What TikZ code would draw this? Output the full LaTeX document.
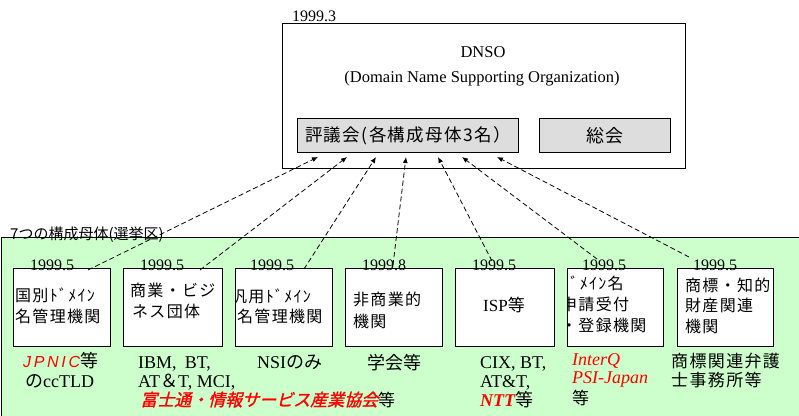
\documentclass[tikz,border=0pt]{standalone}
\usepackage{fontspec}
\setmainfont{Liberation Serif}
\newfontfamily\jp{Noto Sans CJK JP}
\newfontfamily\jpsp[LetterSpace=8]{Noto Sans CJK JP}
\newfontfamily\jpbi[FakeBold=1.5,FakeSlant=0.25]{Noto Sans CJK JP}
\newfontfamily\sansit{Liberation Sans}
\usetikzlibrary{arrows.meta}
\definecolor{areagreen}{RGB}{204,255,204}
\definecolor{boxgray}{RGB}{221,221,221}
\begin{document}
\begin{tikzpicture}[x=1pt,y=-1pt,
  frame/.style={draw=black,line width=1.1pt,inner sep=0pt,anchor=north west},
  graybox/.style={frame,fill=boxgray},
  whitebox/.style={frame,fill=white,minimum height=78pt},
  datelbl/.style={anchor=base west,inner sep=0pt,font=\fontsize{16}{18}\selectfont},
  jtext/.style={anchor=west,inner sep=0pt,font=\jpsp\fontsize{16}{18}\selectfont},
  btext/.style={anchor=base west,inner sep=0pt,font=\fontsize{18}{20}\selectfont},
  conn/.style={line width=0.8pt,dash pattern=on 5pt off 3pt,-{Latex[length=6pt,width=5pt]}}]
\useasboundingbox (0,0) rectangle (799,415);

% upper DNSO box
\node[frame,fill=white,minimum width=403pt,minimum height=145pt] (dnso) at (282,22.5) {};
\node[datelbl] (d0) at (292,21.5) {1999.3};
\node[anchor=base,inner sep=0pt,font=\fontsize{16.5}{18}\selectfont] (title1) at (483,57) {DNSO};
\node[anchor=base,inner sep=0pt,font=\fontsize{16.5}{18}\selectfont] (title2) at (482,82) {(Domain Name Supporting Organization)};
\node[graybox,minimum width=221pt,minimum height=34pt,font=\jpsp\fontsize{17.5}{20}\selectfont] (hyo) at (297,118) {評議会(各構成母体3名）};
\node[graybox,minimum width=131pt,minimum height=34pt,font=\jpsp\fontsize{18}{20}\selectfont] (sokai) at (539,118) {総会};

% green region
\node[frame,line width=1pt,fill=areagreen,minimum width=798pt,minimum height=180pt] (area) at (0.5,237) {};
\node[anchor=base west,inner sep=0pt,font=\jp\fontsize{15}{17}\selectfont] (arealbl) at (10,239) {7つの構成母体(選挙区)};

% seven boxes
\node[whitebox,minimum width=97pt] (b1) at (13,268) {};
\node[whitebox,minimum width=99pt] (b2) at (123,268) {};
\node[whitebox,minimum width=97pt] (b3) at (235,268) {};
\node[whitebox,minimum width=97pt] (b4) at (345,268) {};
\node[whitebox,minimum width=99pt] (b5) at (455,268) {};
\node[whitebox,minimum width=96pt] (b6) at (567,268) {};
\node[whitebox,minimum width=96pt] (b7) at (677,268) {};

% dates
\node[datelbl] (d1) at (30,270) {1999.5};
\node[datelbl] (d2) at (140,270) {1999.5};
\node[datelbl] (d3) at (250,270) {1999.5};
\node[datelbl] (d4) at (362,270) {1999.8};
\node[datelbl] (d5) at (472,270) {1999.5};
\node[datelbl] (d6) at (582,270) {1999.5};
\node[datelbl] (d7) at (693,270) {1999.5};

% box texts
\node[jtext] (b1a) at (15,295) {国別ﾄﾞﾒｲﾝ};
\node[jtext] (b1b) at (15,316) {名管理機関};
\node[jtext] (b2a) at (130,290) {商業・ビジ};
\node[jtext] (b2b) at (132,311) {ネス団体};
\begin{scope}
  \clip (b3.north west) rectangle (b3.south east);
  \node[jtext] (b3a) at (231,296) {汎用ﾄﾞﾒｲﾝ};
  \node[jtext] (b3b) at (237,316) {名管理機関};
\end{scope}
\node[jtext] (b4a) at (353,299) {非商業的};
\node[jtext] (b4b) at (353,321) {機関};
\node[anchor=west,inner sep=0pt,font=\fontsize{17}{19}\selectfont] (b5a) at (483,305) {ISP{\jp 等}};
\begin{scope}
  \clip (b6.north west) rectangle (b6.south east);
  \node[jtext] (b6a) at (561,283) {ﾄﾞﾒｲﾝ名};
  \node[jtext] (b6b) at (561,304) {申請受付};
  \node[jtext] (b6c) at (561,325) {・登録機関};
\end{scope}
\node[jtext] (b7a) at (685,285) {商標・知的};
\node[jtext] (b7b) at (685,305) {財産関連};
\node[jtext] (b7c) at (685,326) {機関};

% connector ends
\coordinate (s1) at (88,270);
\coordinate (s2) at (200,270);
\coordinate (s3) at (304,269);
\coordinate (s4) at (393,265);
\coordinate (s5) at (492,261);
\coordinate (s6) at (597,259);
\coordinate (s7) at (689,257);
\coordinate (t1) at (318,157);
\coordinate (t2) at (347,157);
\coordinate (t3) at (376,157);
\coordinate (t4) at (406,157);
\coordinate (t5) at (438,157);
\coordinate (t6) at (462,157);
\coordinate (t7) at (497,157);
\foreach \i in {1,...,7} \draw[conn] (s\i) -- (t\i);

% texts below boxes
\node[btext] (u1a) at (23,367) {{\sansit\itshape\color{red}\fontsize{16}{18}\selectfont J\,P\,N\,I\,C}{\jp 等}};
\node[btext] (u1b) at (25,387) {{\jp の}ccTLD};
\node[btext] (u2a) at (138,368) {IBM,\hspace{0.45em}BT,};
\node[btext] (u2b) at (138,387) {AT{\jp ＆}T, MCI,};
\node[btext] (u2c) at (140,406) {{\jpbi\color{red}\fontsize{17}{19}\selectfont 富士通・情報サービス産業協会}{\jp\fontsize{17}{19}\selectfont 等}};
\node[btext] (u3a) at (257,368) {NSI{\jp のみ}};
\node[btext] (u4a) at (367,369) {{\jp 学会等}};
\node[btext] (u5a) at (480,368) {CIX, BT,};
\node[btext] (u5b) at (480,387) {AT\&T,};
\node[btext] (u5c) at (480,406) {{\color{red}\bfseries\itshape NTT}{\jp 等}};
\node[btext] (u6a) at (572,365) {{\color{red}\itshape InterQ}};
\node[btext] (u6b) at (572,383) {{\color{red}\itshape PSI-Japan}};
\node[btext] (u6c) at (572,404) {{\jp\fontsize{17}{19}\selectfont 等}};
\node[btext] (u7a) at (671,367) {{\jpsp\fontsize{17}{19}\selectfont 商標関連弁護}};
\node[btext] (u7b) at (671,386) {{\jpsp\fontsize{17}{19}\selectfont 士事務所等}};
\end{tikzpicture}
\end{document}
